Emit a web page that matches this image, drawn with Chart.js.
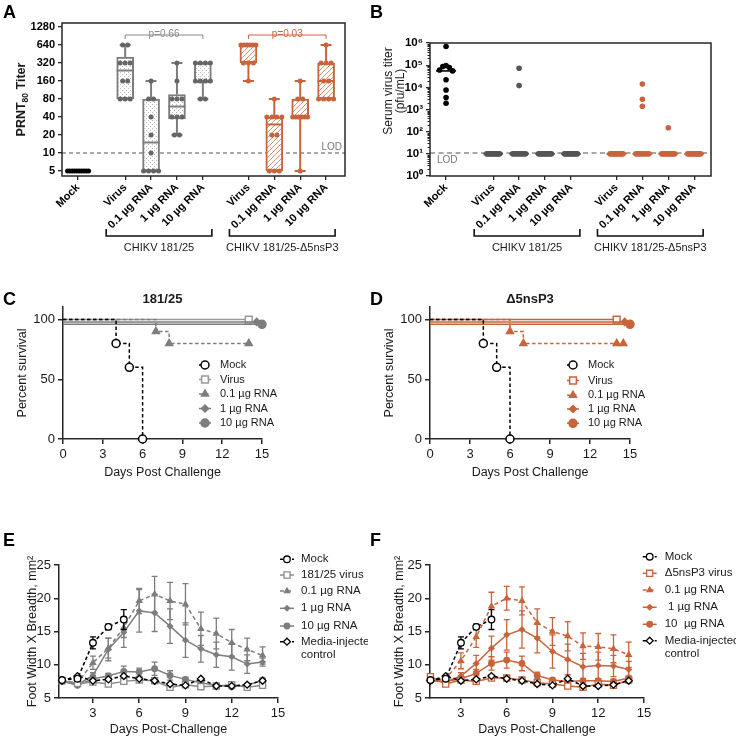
<!DOCTYPE html>
<html><head><meta charset="utf-8">
<script src="https://cdn.jsdelivr.net/npm/chart.js@4.4.1/dist/chart.umd.min.js"></script>
<style>
html,body{margin:0;padding:0;background:#fff;}
body{width:736px;height:739px;position:relative;overflow:hidden;font-family:"Liberation Sans",Arial,sans-serif;}
canvas{position:absolute;}
.pl{position:absolute;font:bold 18px/18px "Liberation Sans",Arial,sans-serif;color:#000;}
</style></head><body>
<canvas id="cA" width="368" height="290" style="left:0;top:0"></canvas>
<canvas id="cB" width="368" height="290" style="left:368px;top:0"></canvas>
<canvas id="cC" width="368" height="200" style="left:0;top:290px"></canvas>
<canvas id="cD" width="368" height="200" style="left:368px;top:290px"></canvas>
<canvas id="cE" width="368" height="249" style="left:0;top:490px"></canvas>
<canvas id="cF" width="368" height="249" style="left:368px;top:490px"></canvas>
<div class="pl" style="left:3px;top:2.6px">A</div>
<div class="pl" style="left:370px;top:2.6px">B</div>
<div class="pl" style="left:3px;top:290px">C</div>
<div class="pl" style="left:370px;top:290px">D</div>
<div class="pl" style="left:3px;top:530.5px">E</div>
<div class="pl" style="left:370px;top:530.5px">F</div>
<script>
// ================= DATA =================
const groupLabels = ['Mock','Virus','0.1 µg RNA','1 µg RNA','10 µg RNA','Virus','0.1 µg RNA','1 µg RNA','10 µg RNA'];
const vaccineLabels = ['CHIKV 181/25','CHIKV 181/25-Δ5nsP3'];

// Panel A: PRNT80 titers (individual mice) and box statistics
const prntTickValues = [5,10,20,40,80,160,320,640,1280];
const prntMock      = [5,5,5,5,5,5,5,5,5,5];
const prnt181Virus  = [640,640,320,320,320,160,160,80,80,80];
const prnt181Rna01  = [160,80,80,40,20,10,5,5,5,5];
const prnt181Rna1   = [320,160,80,80,80,40,40,40,20,20];
const prnt181Rna10  = [320,320,320,320,160,160,160,160,80,80];
const prntDVirus    = [640,640,640,640,640,640,320,320,320,160];
const prntDRna01    = [80,40,40,40,40,20,20,5,5,5];
const prntDRna1     = [160,80,80,40,40,40,40,40,40,5];
const prntDRna10    = [640,320,320,320,160,160,80,80,80,80];
const prntMin    = [5,80,5,20,80,160,5,5,80];
const prntQ1     = [5,80,5,37,148,320,5,40,80];
const prntMedian = [5,240,15,60,160,640,30,40,160];
const prntQ3     = [5,400,80,95,320,640,40,80,320];
const prntMax    = [5,640,160,320,320,640,80,160,640];
const prntLOD = 10;
const prntPValues = ['p=0.66','p=0.03'];

// Panel B: serum virus titers
const serumTickValues = [1,10,100,1000,10000,100000,1000000];
const serumMock     = [700000,96000,87000,78000,61000,55000,22000,7600,3500,1900];
const serum181Virus = [10,10,10,10,10,10,10,10,10,10];
const serum181Rna01 = [73000,12000,10,10,10,10,10,10,10,10];
const serum181Rna1  = [10,10,10,10,10,10,10,10,10,10];
const serum181Rna10 = [10,10,10,10,10,10,10,10,10,10];
const serumDVirus   = [10,10,10,10,10,10,10,10,10,10];
const serumDRna01   = [14000,2900,1400,10,10,10,10,10,10,10];
const serumDRna1    = [150,10,10,10,10,10,10,10,10,10];
const serumDRna10   = [10,10,10,10,10,10,10,10,10,10];
const serumMedian   = [55000,10,10,10,10,10,10,10,10];
const serumLOD = 11;

// Panels C, D: survival
const survivalTitles = ['181/25','Δ5nsP3'];
const survivalLegend = ['Mock','Virus','0.1 µg RNA','1 µg RNA','10 µg RNA'];
const survTicksX = [0,3,6,9,12,15];
const survTicksY = [0,50,100];
const survMockDays = [0,4,5,6],            survMock = [100,80,60,0];
const surv181VirusDays = [0,14],           surv181Virus = [100,100];
const surv181Rna01Days = [0,7,8,14],       surv181Rna01 = [100,90,80,80];
const surv181Rna1Days = [0,14.6],          surv181Rna1 = [98,98];
const surv181Rna10Days = [0,15],           surv181Rna10 = [96,96];
const survDVirusDays = [0,14],             survDVirus = [100,100];
const survDRna01Days = [0,6,7,14,14.5],    survDRna01 = [100,90,80,80,80];
const survDRna1Days = [0,14.6],            survDRna1 = [98,98];
const survDRna10Days = [0,15],             survDRna10 = [96,96];

// Panels E, F: foot swelling (mean, SEM) by day post-challenge
const footTicksX = [3,6,9,12,15];
const footTicksY = [5,10,15,20,25];
const footDays = [1,2,3,4,5,6,7,8,9,10,11,12,13,14];
const footMock    = [7.7,7.9,13.3,15.7,16.8];
const footMockErr = [0.2,0.3,0.9,0.4,1.5];
const footMedia   = [7.6,8.3,7.6,7.8,8.3,7.9,7.6,7.1,6.9,7.9,6.8,6.8,7.0,7.6];
const footMediaErr= [0.1,0.1,0.1,0.1,0.1,0.1,0.1,0.1,0.1,0.1,0.1,0.1,0.1,0.1];
const foot181Virus    = [7.6,7.2,7.4,7.1,7.5,7.7,7.6,6.6,7.0,6.7,6.8,7.0,6.6,6.9];
const foot181VirusErr = [0.2,0.2,0.2,0.2,0.2,0.2,0.2,0.2,0.2,0.2,0.2,0.2,0.2,0.2];
const foot181Rna01    = [7.6,7.3,10.3,12.5,15.6,19.6,20.6,19.6,19.1,15.4,14.7,13.3,12.3,11.4];
const foot181Rna01Err = [0.2,0.2,1.0,1.5,1.5,1.9,2.7,2.8,3.1,2.5,2.3,2.0,1.7,1.3];
const foot181Rna1     = [7.5,7.0,8.4,12.3,14.9,18.1,17.8,15.8,13.7,12.4,11.5,11.2,10.1,10.4];
const foot181Rna1Err  = [0.2,0.2,0.4,1.7,2.3,3.2,2.8,2.6,2.6,2.0,1.9,2.0,1.4,0.6];
const foot181Rna10    = [7.6,6.9,7.9,8.3,9.0,8.9,9.4,8.4,7.8,7.3,6.9,6.7,6.9,7.7];
const foot181Rna10Err = [0.2,0.2,0.3,0.4,0.8,0.6,1.0,0.7,0.3,0.3,0.3,0.2,0.2,0.3];
const footDVirus      = [8.2,7.1,7.7,7.5,8.0,8.0,7.7,7.3,7.1,6.8,6.6,7.1,6.9,7.7];
const footDVirusErr   = [0.2,0.2,0.2,0.2,0.2,0.2,0.2,0.2,0.2,0.2,0.2,0.2,0.2,0.2];
const footDRna01      = [7.6,7.9,10.6,14.2,18.8,20.0,19.6,16.3,15.0,14.3,12.8,12.7,12.4,11.5];
const footDRna01Err   = [0.2,0.3,1.2,1.6,2.1,1.8,2.1,2.1,2.1,2.2,2.0,2.0,2.1,1.9];
const footDRna1       = [7.6,7.4,8.3,10.2,12.5,14.5,15.3,14.0,12.0,10.8,9.7,9.9,9.8,9.3];
const footDRna1Err    = [0.2,0.2,0.5,1.2,1.8,2.3,2.8,2.2,2.5,2.3,2.0,2.0,1.6,1.2];
const footDRna10      = [7.6,7.5,7.9,8.7,10.2,10.7,10.2,8.4,7.7,7.5,7.6,7.6,7.5,8.0];
const footDRna10Err   = [0.2,0.2,0.3,0.6,1.0,1.2,1.1,0.5,0.3,0.3,0.3,0.3,0.3,0.3];
const footLegendE = [['Mock'],['181/25 virus'],['0.1 µg RNA'],['1 µg RNA'],['10 µg RNA'],['Media-injected','control']];
const footLegendF = [['Mock'],['Δ5nsP3 virus'],['0.1 µg RNA'],[' 1 µg RNA'],['10  µg RNA'],['Media-injected','control']];

// ================= STYLE / LAYOUT =================
const FF = '"Liberation Sans", Arial, Helvetica, sans-serif';
const GRAY = '#7d7d7d', GRAYDOT = '#656565', ORANGE = '#c8643b', BLACK = '#000', AXIS = '#262626', TXT = '#1a1a1a';
Chart.defaults.font.family = FF;
Chart.defaults.color = TXT;
const slotX = [0,1.82,2.82,3.82,4.82,6.58,7.58,8.58,9.58];
const X_UNIT_PX = 25.9;
const colorOf = i => i===0 ? BLACK : (i<5 ? GRAY : ORANGE);
const dotColorOf = i => i===0 ? BLACK : (i<5 ? GRAYDOT : ORANGE);

function spreadOffsets(vals, toPx, halfW, stepPx){
  const order = vals.map((v,i)=>i).sort((a,b)=>vals[b]-vals[a]);
  const off = new Array(vals.length).fill(0);
  let cl = [];
  const flush = () => {
    const k = cl.length; if(!k) return;
    const st = k>1 ? Math.min(stepPx, 2*halfW/(k-1)) : 0;
    const slots = [];
    for(let n=0;n<k;n++) slots.push(n-(k-1)/2);
    slots.sort((a,b)=>Math.abs(a)-Math.abs(b) || a-b);
    cl.forEach((j,n)=>{ off[j] = slots[n]*st/X_UNIT_PX; });
    cl = [];
  };
  order.forEach(j=>{
    if(cl.length && Math.abs(toPx(vals[j])-toPx(vals[cl[cl.length-1]]))>=4) flush();
    cl.push(j);
  });
  flush();
  return off;
}
function dotPoints(groups, idxs, toPx, halfW, halfWMock){
  const pts = [];
  idxs.forEach(i=>{
    const off = spreadOffsets(groups[i], toPx, i===0?halfWMock:halfW, 5);
    groups[i].forEach((v,k)=>pts.push({x:slotX[i]+off[k], y:v}));
  });
  return pts;
}
function tickFix(vals){ return s => { s.ticks = vals.map(v=>({value:v})); }; }

const commonAxisGrid = {drawOnChartArea:false, drawTicks:true, tickLength:4, color:AXIS, lineWidth:1.3};

function drawGroupBrackets(chart){
  const {ctx, scales:{x}} = chart;
  ctx.save();
  ctx.strokeStyle = '#111'; ctx.lineWidth = 1.6; ctx.fillStyle = TXT;
  ctx.font = '11px '+FF; ctx.textAlign='center'; ctx.textBaseline='middle';
  [[1,4],[5,8]].forEach(([a,b],k)=>{
    const x1 = x.getPixelForValue(slotX[a]) - 19, x2 = x.getPixelForValue(slotX[b]) + 9;
    ctx.beginPath(); ctx.moveTo(x1,229); ctx.lineTo(x1,236); ctx.lineTo(x2,236); ctx.lineTo(x2,229); ctx.stroke();
    ctx.fillText(vaccineLabels[k], (x1+x2)/2, 248);
  });
  ctx.restore();
}
function drawFrame(chart){
  const {ctx, chartArea:a} = chart;
  ctx.save(); ctx.strokeStyle = AXIS; ctx.lineWidth = 1.5;
  ctx.strokeRect(a.left, a.top, a.right-a.left, a.bottom-a.top); ctx.restore();
}

// ================= PANEL A =================
(function(){
  const cv = document.getElementById('cA');
  const g = cv.getContext('2d');
  function stipple(){ const c=document.createElement('canvas'); c.width=c.height=4; const t=c.getContext('2d');
    t.fillStyle='#fff'; t.fillRect(0,0,4,4); t.fillStyle='#b8b8b8'; t.fillRect(0,0,1,1); t.fillRect(2,2,1,1); return g.createPattern(c,'repeat'); }
  function hatch(){ const c=document.createElement('canvas'); c.width=c.height=5; const t=c.getContext('2d');
    t.fillStyle='#fff'; t.fillRect(0,0,5,5); t.strokeStyle='#dd9270'; t.lineWidth=1;
    t.beginPath(); t.moveTo(-1,6); t.lineTo(6,-1); t.moveTo(-1,1); t.lineTo(1,-1); t.moveTo(4,6); t.lineTo(6,4); t.stroke(); return g.createPattern(c,'repeat'); }
  const pStip = stipple(), pHatch = hatch();
  const groups = [prntMock,prnt181Virus,prnt181Rna01,prnt181Rna1,prnt181Rna10,prntDVirus,prntDRna01,prntDRna1,prntDRna10];
  const boxIdx = [1,2,3,4,5,6,7,8];
  const toPx = v => Math.log2(v)*18;

  const boxPlugin = {
    id:'boxA',
    beforeDatasetsDraw(chart){
      const {ctx, chartArea:a, scales:{y}} = chart;
      const ly = y.getPixelForValue(prntLOD);
      ctx.save(); ctx.strokeStyle='#8c8c8c'; ctx.lineWidth=1.5; ctx.setLineDash([4,3]);
      ctx.beginPath(); ctx.moveTo(a.left,ly); ctx.lineTo(a.right,ly); ctx.stroke(); ctx.setLineDash([]);
      ctx.fillStyle='#777'; ctx.font='10px '+FF; ctx.textAlign='right'; ctx.textBaseline='bottom';
      ctx.fillText('LOD', a.right-3, ly-1);
      ctx.restore();
    },
    afterDatasetDraw(chart, args){
      if(args.index!==0) return;
      const {ctx, scales:{x,y}} = chart;
      ctx.save(); ctx.lineWidth = 2;
      boxIdx.forEach(i=>{
        const cx = x.getPixelForValue(slotX[i]);
        const p = v => y.getPixelForValue(v);
        ctx.strokeStyle = colorOf(i);
        ctx.beginPath();
        ctx.moveTo(cx,p(prntQ3[i])); ctx.lineTo(cx,p(prntMax[i]));
        ctx.moveTo(cx,p(prntQ1[i])); ctx.lineTo(cx,p(prntMin[i]));
        ctx.moveTo(cx-5.5,p(prntMax[i])); ctx.lineTo(cx+5.5,p(prntMax[i]));
        ctx.moveTo(cx-5.5,p(prntMin[i])); ctx.lineTo(cx+5.5,p(prntMin[i]));
        ctx.moveTo(cx-8.5,p(prntMedian[i])); ctx.lineTo(cx+8.5,p(prntMedian[i]));
        ctx.stroke();
      });
      ctx.restore();
    },
    afterDraw(chart){
      drawFrame(chart);
      const {ctx, chartArea:a, scales:{x}} = chart;
      ctx.save(); ctx.lineWidth=1; ctx.font='10px '+FF; ctx.textAlign='center'; ctx.textBaseline='alphabetic';
      [[1,4,'#8a8a8a'],[5,8,ORANGE]].forEach(([i1,i2,c],k)=>{
        const x1=x.getPixelForValue(slotX[i1]), x2=x.getPixelForValue(slotX[i2]), yy=a.top+12;
        ctx.strokeStyle=c; ctx.fillStyle=c;
        ctx.beginPath(); ctx.moveTo(x1,yy+4); ctx.lineTo(x1,yy); ctx.lineTo(x2,yy); ctx.lineTo(x2,yy+4); ctx.stroke();
        ctx.fillText(prntPValues[k], (x1+x2)/2, yy+1.5);
      });
      ctx.fillStyle = TXT; ctx.translate(22,(a.top+a.bottom)/2); ctx.rotate(-Math.PI/2);
      const f1='bold 12.5px '+FF, f2='bold 8.5px '+FF;
      ctx.font=f1; const w1=ctx.measureText('PRNT').width, w3=ctx.measureText(' Titer').width;
      ctx.font=f2; const w2=ctx.measureText('80').width;
      let sx=-(w1+w2+w3)/2; ctx.textAlign='left'; ctx.textBaseline='middle';
      ctx.font=f1; ctx.fillText('PRNT',sx,0); ctx.font=f2; ctx.fillText('80',sx+w1,3.5); ctx.font=f1; ctx.fillText(' Titer',sx+w1+w2,0);
      ctx.restore();
      drawGroupBrackets(chart);
    }
  };

  new Chart(cv, {
    type:'scatter',
    data:{datasets:[
      {type:'bar', data: boxIdx.map(i=>({x:slotX[i], y:[prntQ1[i], prntQ3[i]]})),
       backgroundColor: boxIdx.map(i=> i<5 ? pStip : pHatch), borderColor: boxIdx.map(colorOf),
       borderWidth:2, borderSkipped:false, barThickness:17, order:3},
      {data: dotPoints(groups,[0],toPx,7.5,10.5), pointRadius:2.5, pointBackgroundColor:dotColorOf(0), pointBorderWidth:0, order:1},
      {data: dotPoints(groups,[1,2,3,4],toPx,7.5,10.5), pointRadius:2.5, pointBackgroundColor:dotColorOf(1), pointBorderWidth:0, order:1},
      {data: dotPoints(groups,[5,6,7,8],toPx,7.5,10.5), pointRadius:2.5, pointBackgroundColor:dotColorOf(5), pointBorderWidth:0, order:1}
    ]},
    options:{
      responsive:false, animation:false, devicePixelRatio:1, events:[],
      layout:{padding:{left:0,top:23,right:368-345,bottom:0}},
      plugins:{legend:{display:false}, tooltip:{enabled:false}},
      scales:{
        x:{type:'linear', min:-0.62, max:10.31, offset:false,
           afterBuildTicks: tickFix(slotX), afterFit: s=>{ s.height = 290-176; },
           ticks:{autoSkip:false, minRotation:45, maxRotation:45, padding:1, color:'#000', font:{size:11, weight:'bold'}, callback:(v,i)=>groupLabels[i]},
           grid:{...commonAxisGrid, offset:false}, border:{display:false}},
        y:{type:'logarithmic', min:4.12, max:1493,
           afterBuildTicks: tickFix(prntTickValues), afterFit: s=>{ s.width = 62; },
           ticks:{color:'#000', padding:3, font:{size:11, weight:'bold'}, callback:v=>String(v)},
           grid:commonAxisGrid, border:{display:false}}
      }
    },
    plugins:[boxPlugin]
  });
})();

// ================= PANEL B =================
(function(){
  const cv = document.getElementById('cB');
  const groups = [serumMock,serum181Virus,serum181Rna01,serum181Rna1,serum181Rna10,serumDVirus,serumDRna01,serumDRna1,serumDRna10];
  const toPx = v => Math.log10(v)*22.2;
  const sup = '⁰¹²³⁴⁵⁶⁷⁸⁹';
  const plugB = {
    id:'plugB',
    beforeDatasetsDraw(chart){
      const {ctx, chartArea:a, scales:{x,y}} = chart;
      ctx.save();
      const ly = y.getPixelForValue(serumLOD);
      ctx.strokeStyle='#8c8c8c'; ctx.lineWidth=1.5; ctx.setLineDash([5,3.5]);
      ctx.beginPath(); ctx.moveTo(a.left,ly); ctx.lineTo(a.right,ly); ctx.stroke(); ctx.setLineDash([]);
      ctx.fillStyle='#777'; ctx.font='10px '+FF; ctx.textAlign='left'; ctx.textBaseline='top';
      ctx.fillText('LOD', a.left+7, ly+2);
      ctx.lineWidth=1.6;
      serumMedian.forEach((m,i)=>{
        const cx=x.getPixelForValue(slotX[i]), yy=y.getPixelForValue(m);
        ctx.strokeStyle = colorOf(i)===GRAY ? GRAYDOT : colorOf(i);
        ctx.beginPath(); ctx.moveTo(cx-10,yy); ctx.lineTo(cx+10,yy); ctx.stroke();
      });
      ctx.restore();
    },
    afterDraw(chart){
      drawFrame(chart);
      const {ctx, chartArea:a, scales:{y}} = chart;
      ctx.save(); ctx.strokeStyle=AXIS; ctx.lineWidth=1;
      ctx.beginPath();
      for(let n=0;n<6;n++) for(let m=2;m<10;m++){ const yy=Math.round(y.getPixelForValue(m*Math.pow(10,n)))+0.5; ctx.moveTo(a.left-2.5,yy); ctx.lineTo(a.left,yy); }
      ctx.stroke();
      ctx.fillStyle=TXT; ctx.font='12px '+FF; ctx.textAlign='center'; ctx.textBaseline='middle';
      ctx.translate(26.5, 91); ctx.rotate(-Math.PI/2);
      ctx.fillText('Serum virus titer', 0, -5.5); ctx.fillText('(pfu/mL)', 0, 6);
      ctx.restore();
      drawGroupBrackets(chart);
    }
  };
  new Chart(cv, {
    type:'scatter',
    data:{datasets:[
      {data: dotPoints(groups,[0],toPx,6.5,6.5), pointRadius:2.8, pointBackgroundColor:dotColorOf(0), pointBorderWidth:0},
      {data: dotPoints(groups,[1,2,3,4],toPx,6.5,6.5), pointRadius:2.8, pointBackgroundColor:'#555', pointBorderWidth:0},
      {data: dotPoints(groups,[5,6,7,8],toPx,6.5,6.5), pointRadius:2.8, pointBackgroundColor:ORANGE, pointBorderWidth:0}
    ]},
    options:{
      responsive:false, animation:false, devicePixelRatio:1, events:[],
      layout:{padding:{left:0,top:43,right:368-343,bottom:0}},
      plugins:{legend:{display:false}, tooltip:{enabled:false}},
      scales:{
        x:{type:'linear', min:-0.62, max:10.23, offset:false,
           afterBuildTicks: tickFix(slotX), afterFit: s=>{ s.height = 290-176; },
           ticks:{autoSkip:false, minRotation:45, maxRotation:45, padding:1, color:'#000', font:{size:11, weight:'bold'}, callback:(v,i)=>groupLabels[i]},
           grid:commonAxisGrid, border:{display:false}},
        y:{type:'logarithmic', min:1, max:1000000,
           afterBuildTicks: tickFix(serumTickValues), afterFit: s=>{ s.width = 62; },
           ticks:{color:'#000', padding:3, font:{size:11.5, weight:'bold'}, callback:v=>'10'+sup[Math.round(Math.log10(v))]},
           grid:commonAxisGrid, border:{display:false}}
      }
    },
    plugins:[plugB]
  });
})();

// ================= LEGEND / ERROR PLUGINS =================
const legendPlugin = {
  id:'lgd',
  afterDraw(chart, args, o){
    if(!o || !o.items) return;
    const ctx = chart.ctx; ctx.save();
    o.items.forEach((txt,k)=>{
      const ds = chart.data.datasets[k]; const x=o.x, y=o.ys[k];
      ctx.strokeStyle=ds.borderColor; ctx.lineWidth=ds.borderWidth; ctx.setLineDash(ds.borderDash||[]);
      ctx.beginPath(); ctx.moveTo(x-o.half,y); ctx.lineTo(x+o.half,y); ctx.stroke(); ctx.setLineDash([]);
      ctx.fillStyle=ds.pointBackgroundColor; ctx.strokeStyle=ds.pointBorderColor; ctx.lineWidth=ds.pointBorderWidth;
      Chart.helpers.drawPoint(ctx, {pointStyle:ds.pointStyle, radius:ds.legendRadius, rotation:0, borderWidth:ds.pointBorderWidth}, x, y);
      ctx.fillStyle=TXT; ctx.font=o.font; ctx.textAlign='left'; ctx.textBaseline='middle';
      txt.forEach((t,j)=>ctx.fillText(t, x+o.gap, y+j*o.lh));
    });
    ctx.restore();
  }
};
const errPlugin = {
  id:'errs',
  beforeDatasetDraw(chart, args){
    const ds = chart.data.datasets[args.index]; if(!ds.errs) return;
    const {ctx, scales:{x,y}} = chart; ctx.save();
    ctx.strokeStyle=ds.borderColor; ctx.lineWidth=1.3;
    ds.data.forEach((p,i)=>{
      const e=ds.errs[i]; if(!e || e<0.15) return;
      const px=x.getPixelForValue(p.x), y1=y.getPixelForValue(p.y+e), y2=y.getPixelForValue(p.y-e);
      ctx.beginPath(); ctx.moveTo(px,y1); ctx.lineTo(px,y2);
      ctx.moveTo(px-3,y1); ctx.lineTo(px+3,y1); ctx.moveTo(px-3,y2); ctx.lineTo(px+3,y2); ctx.stroke();
    });
    ctx.restore();
  }
};
const titlePlugin = {
  id:'ptitle',
  afterDraw(chart, args, o){
    if(!o || !o.text) return;
    const {ctx, chartArea:a} = chart; ctx.save();
    ctx.fillStyle=TXT; ctx.font='bold 13px '+FF; ctx.textAlign='center'; ctx.textBaseline='middle';
    ctx.fillText(o.text, (a.left+a.right)/2, o.y); ctx.restore();
  }
};

// ================= PANELS C, D =================
function survivalChart(id, title, sets, geo, legend){
  const datasets = sets.map(s=>({
    data: s.days.map((d,i)=>({x:d, y:s.vals[i]})), showLine:true, stepped:true,
    borderColor:s.color, borderWidth:1.5, borderDash:s.dash||[],
    pointStyle:s.style, pointRadius:c=>c.dataIndex===0?0:s.r, legendRadius:s.r,
    pointBackgroundColor:s.fill, pointBorderColor:s.color, pointBorderWidth:1.5,
    clip:false, order:s.order
  }));
  new Chart(document.getElementById(id), {
    type:'scatter', data:{datasets},
    options:{
      responsive:false, animation:false, devicePixelRatio:1, events:[],
      layout:{padding:{left:0, top:geo.top, right:368-geo.right, bottom:0}},
      plugins:{legend:{display:false}, tooltip:{enabled:false}, lgd:legend, ptitle:{text:title, y:9}},
      scales:{
        x:{type:'linear', min:0, max:15, afterBuildTicks:tickFix(survTicksX), afterFit:s=>{s.height=200-geo.bottom;},
           ticks:{color:TXT, padding:3, font:{size:13}},
           grid:{drawOnChartArea:false, drawTicks:true, tickLength:5, color:AXIS, lineWidth:1.5},
           border:{display:true, color:AXIS, width:1.5},
           title:{display:true, text:'Days Post Challenge', color:TXT, font:{size:12.5}, padding:{top:0,bottom:9.5}}},
        y:{type:'linear', min:0, max:110.5, afterBuildTicks:tickFix(survTicksY), afterFit:s=>{s.width=geo.left;},
           ticks:{color:TXT, padding:3, font:{size:13}},
           grid:{drawOnChartArea:false, drawTicks:true, tickLength:5, color:AXIS, lineWidth:1.5},
           border:{display:true, color:AXIS, width:1.5},
           title:{display:true, text:'Percent survival', color:TXT, font:{size:12.5}, padding:{top:geo.titlePad,bottom:0}}}
      }
    },
    plugins:[legendPlugin, titlePlugin]
  });
}
const survLegendC = {items:survivalLegend.map(t=>[t]), x:205, ys:[75,89.5,104,118.5,133], half:6, gap:15, lh:13, font:'11px '+FF};
const survLegendD = {items:survivalLegend.map(t=>[t]), x:205, ys:[75,90.5,105.3,119,133.3], half:6, gap:15, lh:13, font:'11px '+FF};
survivalChart('cC', survivalTitles[0], [
  {days:survMockDays, vals:survMock, color:BLACK, dash:[3.5,2.5], style:'circle', r:4, fill:'#fff', order:0},
  {days:surv181VirusDays, vals:surv181Virus, color:'#9a9a9a', style:'rect', r:4.8, fill:'#fff', order:2},
  {days:surv181Rna01Days, vals:surv181Rna01, color:GRAY, dash:[3.5,2.5], style:'triangle', r:4, fill:GRAY, order:1},
  {days:surv181Rna1Days, vals:surv181Rna1, color:GRAY, style:'rectRot', r:3.5, fill:GRAY, order:1},
  {days:surv181Rna10Days, vals:surv181Rna10, color:GRAY, style:'circle', r:4, fill:GRAY, order:1}
], {left:63, top:17, right:262, bottom:149, titlePad:15.5}, survLegendC);
survivalChart('cD', survivalTitles[1], [
  {days:survMockDays, vals:survMock, color:BLACK, dash:[3.5,2.5], style:'circle', r:4, fill:'#fff', order:0},
  {days:survDVirusDays, vals:survDVirus, color:ORANGE, style:'rect', r:4.8, fill:'#fff', order:2},
  {days:survDRna01Days, vals:survDRna01, color:ORANGE, dash:[3.5,2.5], style:'triangle', r:4, fill:ORANGE, order:1},
  {days:survDRna1Days, vals:survDRna1, color:ORANGE, style:'rectRot', r:3.5, fill:ORANGE, order:1},
  {days:survDRna10Days, vals:survDRna10, color:ORANGE, style:'circle', r:4, fill:ORANGE, order:1}
], {left:62, top:17, right:262, bottom:149, titlePad:14.2}, survLegendD);

// ================= PANELS E, F =================
function footChart(id, sets, geo, legend){
  const datasets = sets.map(s=>({
    data: s.vals.map((v,i)=>({x:footDays[i], y:v})), errs:s.errs, showLine:true,
    borderColor:s.color, borderWidth:1.5, borderDash:s.dash||[],
    pointStyle:s.style, pointRadius:s.r, legendRadius:s.r,
    pointBackgroundColor:s.fill, pointBorderColor:s.color, pointBorderWidth:1.3,
    clip:false, order:s.order
  }));
  new Chart(document.getElementById(id), {
    type:'scatter', data:{datasets},
    options:{
      responsive:false, animation:false, devicePixelRatio:1, events:[],
      layout:{padding:{left:0, top:geo.top, right:368-geo.right, bottom:0}},
      plugins:{legend:{display:false}, tooltip:{enabled:false}, lgd:legend},
      scales:{
        x:{type:'linear', min:geo.xmin, max:15, afterBuildTicks:tickFix(footTicksX), afterFit:s=>{s.height=249-geo.bottom;},
           ticks:{color:TXT, padding:3, font:{size:13}},
           grid:{drawOnChartArea:false, drawTicks:true, tickLength:5, color:AXIS, lineWidth:1.5},
           border:{display:true, color:AXIS, width:1.5},
           title:{display:true, text:'Days Post-Challenge', color:TXT, font:{size:12.5}, padding:{top:0,bottom:2}}},
        y:{type:'linear', min:5, max:25, afterBuildTicks:tickFix(footTicksY), afterFit:s=>{s.width=geo.left;},
           ticks:{color:TXT, padding:3, font:{size:13}},
           grid:{drawOnChartArea:false, drawTicks:true, tickLength:5, color:AXIS, lineWidth:1.5},
           border:{display:true, color:AXIS, width:1.5},
           title:{display:true, text:'Foot Width X Breadth, mm²', color:TXT, font:{size:12.5}, padding:{top:geo.titlePad,bottom:0}}}
      }
    },
    plugins:[errPlugin, legendPlugin]
  });
}
footChart('cE', [
  {vals:footMock, errs:footMockErr, color:BLACK, dash:[3.5,2.5], style:'circle', r:3.3, fill:'#fff', order:0},
  {vals:foot181Virus, errs:foot181VirusErr, color:'#8a8a8a', style:'rect', r:4.3, fill:'#fff', order:1},
  {vals:foot181Rna01, errs:foot181Rna01Err, color:GRAY, dash:[4,3], style:'triangle', r:3, fill:GRAY, order:2},
  {vals:foot181Rna1, errs:foot181Rna1Err, color:GRAY, style:'rectRot', r:2.6, fill:GRAY, order:2},
  {vals:foot181Rna10, errs:foot181Rna10Err, color:GRAY, style:'circle', r:2.8, fill:GRAY, order:2},
  {vals:footMedia, errs:footMediaErr, color:BLACK, dash:[3.5,2.5], style:'rectRot', r:3.5, fill:'#fff', order:0}
], {left:59, top:75, right:278, bottom:208, titlePad:25.5, xmin:0.8},
 {items:footLegendE, x:287, ys:[69.3,85,101,118.3,136,151.7], half:7, gap:14, lh:13.3, font:'11.5px '+FF});
footChart('cF', [
  {vals:footMock, errs:footMockErr, color:BLACK, dash:[3.5,2.5], style:'circle', r:3.3, fill:'#fff', order:0},
  {vals:footDVirus, errs:footDVirusErr, color:ORANGE, style:'rect', r:4.3, fill:'#fff', order:1},
  {vals:footDRna01, errs:footDRna01Err, color:ORANGE, dash:[4,3], style:'triangle', r:3, fill:ORANGE, order:2},
  {vals:footDRna1, errs:footDRna1Err, color:ORANGE, style:'rectRot', r:2.6, fill:ORANGE, order:2},
  {vals:footDRna10, errs:footDRna10Err, color:ORANGE, style:'circle', r:2.8, fill:ORANGE, order:2},
  {vals:footMedia, errs:footMediaErr, color:BLACK, dash:[3.5,2.5], style:'rectRot', r:3.5, fill:'#fff', order:0}
], {left:62, top:75, right:276, bottom:208, titlePad:24.5, xmin:0.97},
 {items:footLegendF, x:281.7, ys:[66.7,83.3,100,117.3,134.3,150.7], half:7, gap:15, lh:13.3, font:'11.5px '+FF});
</script>
</body></html>
